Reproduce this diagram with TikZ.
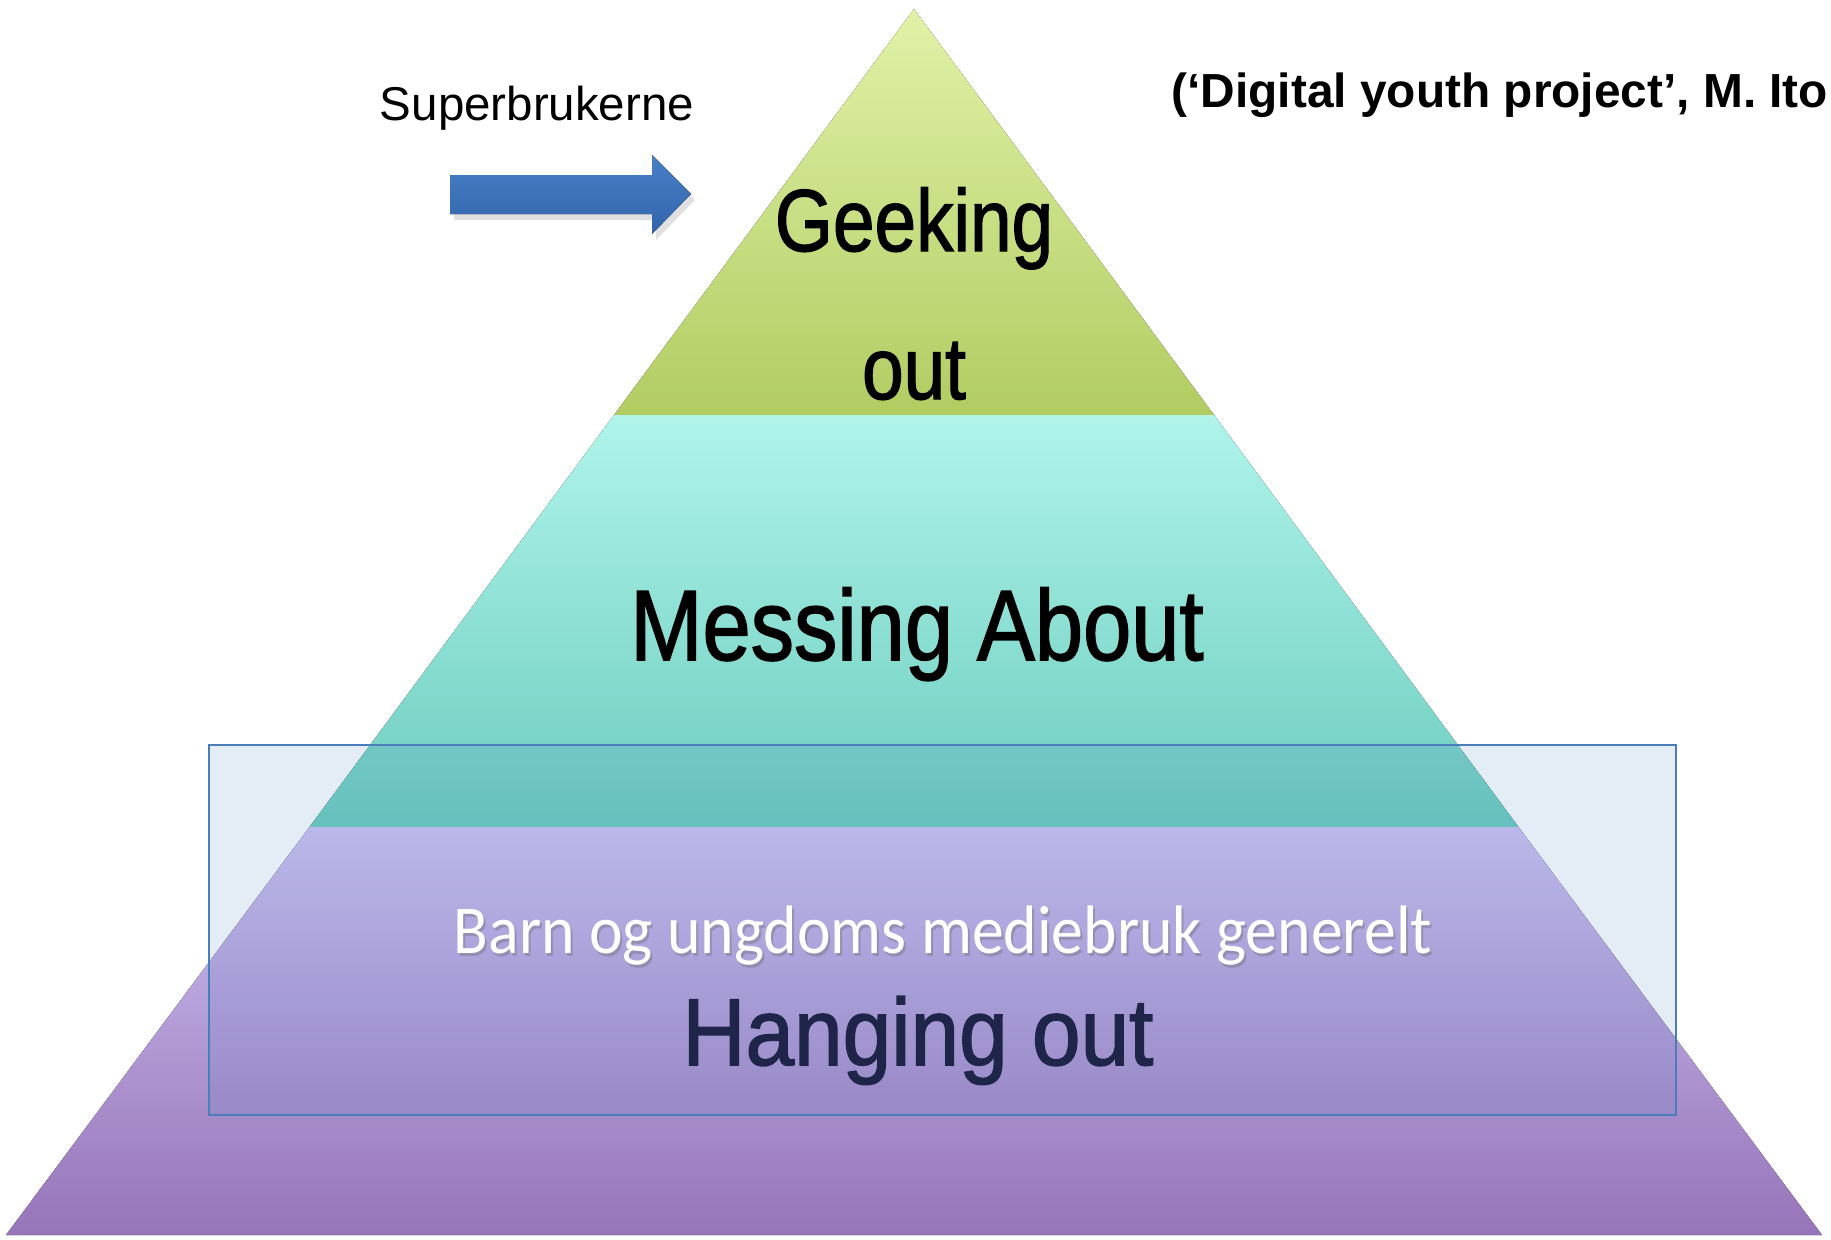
\documentclass[tikz,border=0pt]{standalone}
\usepackage{fontspec}
\setmainfont{Liberation Sans}
\newfontfamily\calib{Carlito}
\newfontfamily\heavy[FakeBold=1.6]{Liberation Sans}
\definecolor{gtop}{RGB}{224,242,168}
\definecolor{gbot}{RGB}{178,204,98}
\definecolor{ttop}{RGB}{176,244,234}
\definecolor{tbot}{RGB}{108,204,190}
\definecolor{ptop}{RGB}{206,194,242}
\definecolor{pbot}{RGB}{150,116,184}
\definecolor{ovl}{RGB}{79,129,189}
\definecolor{ovlline}{RGB}{74,126,187}
\definecolor{arrtop}{RGB}{72,128,198}
\definecolor{arrbot}{RGB}{50,100,172}
\definecolor{navy}{RGB}{22,22,52}
\tikzset{
  lbl/.style={inner sep=0pt, anchor=base},
  level/.style={inner sep=0pt, anchor=base, text=black},
}
\begin{document}
\begin{tikzpicture}[x=0.01cm, y=-0.01cm]
\useasboundingbox[fill=white] (0,0) rectangle (1831,1239);
% pyramid bands
\coordinate (apex) at (914,9);
\fill[top color=gtop, bottom color=gbot] (apex) -- (1214,415) -- (614,415) -- cycle;
\fill[top color=ttop, bottom color=tbot] (614,415) -- (1214,415) -- (1518.5,827) -- (309.5,827) -- cycle;
\fill[top color=ptop, bottom color=pbot] (309.5,827) -- (1518.5,827) -- (1822,1235) -- (6,1235) -- cycle;
% arrow
\fill[black, opacity=0.12] (454,181) -- (656,181) -- (656,161) -- (695,200) -- (656,240) -- (656,220) -- (454,220) -- cycle;
\fill[top color=arrtop, bottom color=arrbot] (450,175) -- (652,175) -- (652,155) -- (691,194) -- (652,234) -- (652,214) -- (450,214) -- cycle;
% level labels
\node[level, font=\heavy\fontsize{25}{25}\selectfont] (geek) at (914,251) {\scalebox{0.85}[1]{Geeking}};
\node[level, font=\heavy\fontsize{25}{25}\selectfont] (out) at (914,399) {\scalebox{0.85}[1]{out}};
\node[level, font=\heavy\fontsize{28.5}{28.5}\selectfont] (mess) at (917,660) {\scalebox{0.865}[1]{Messing About}};
\node[level, text=navy, font=\heavy\fontsize{27}{27}\selectfont] (hang) at (918,1065) {\scalebox{0.92}[1]{Hanging out}};
% overlay rectangle
\draw[ovlline, line width=0.6pt, fill=ovl, fill opacity=0.15] (209,745) rectangle (1676,1115);
\node[lbl, text=black!60, opacity=0.35, font=\calib\fontsize{19.5}{19.5}\selectfont] (barnsh) at (945,956) {\scalebox{0.93}[1]{Barn og ungdoms mediebruk generelt}};
\node[lbl, text=white, font=\calib\fontsize{19.5}{19.5}\selectfont] (barn) at (943,953) {\scalebox{0.93}[1]{Barn og ungdoms mediebruk generelt}};
% other texts
\node[lbl, font=\fontsize{13.5}{13.5}\selectfont] (super) at (537,120) {Superbrukerne};
\node[lbl, anchor=base west, font=\bfseries\fontsize{13.6}{13.6}\selectfont] (title) at (1171,107) {(‘Digital youth project’, M. Ito};
\end{tikzpicture}
\end{document}
